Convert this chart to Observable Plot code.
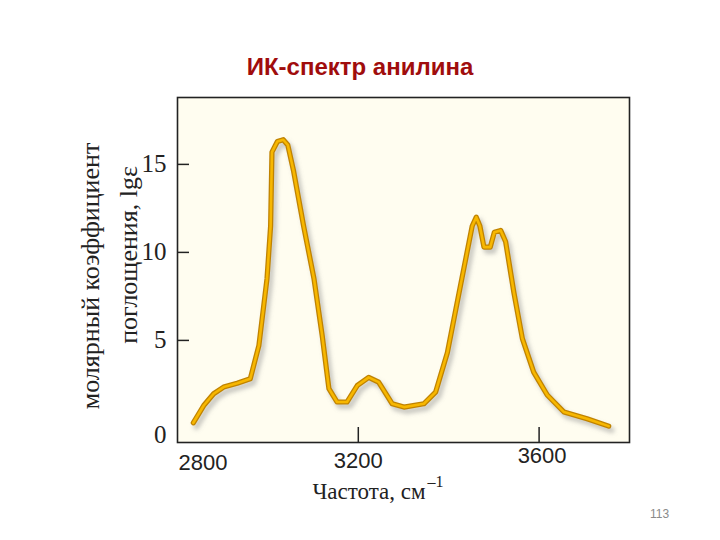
<!DOCTYPE html>
<html>
<head>
<meta charset="utf-8">
<script src="https://cdn.jsdelivr.net/npm/d3@7"></script>
<script src="https://cdn.jsdelivr.net/npm/@observablehq/plot@0.6"></script>
<style>
  html, body { margin: 0; padding: 0; background: #fff; }
  #wrap { position: relative; width: 720px; height: 540px; overflow: hidden; }
  #title { position: absolute; left: 0; width: 720px; top: 53px; text-align: center;
           font-family: "Liberation Sans", Arial, sans-serif; font-weight: bold; font-size: 24px; color: #a00d0d; }
  #page { position: absolute; left: 650px; top: 507px; font-family: "Liberation Sans", Arial, sans-serif;
          font-size: 12px; color: #8a8a8a; }
  #chart { position: absolute; left: 0; top: 0; }
</style>
</head>
<body>
<div id="wrap">
  <div id="chart"></div>
  <div id="title">ИК-спектр анилина</div>
  <div id="page">113</div>
</div>
<script>
// Wavenumber (cm^-1) and lg(epsilon)
const wavenumber = [2835, 2858, 2880, 2902, 2932, 2961, 2980, 2998, 3006, 3009, 3021, 3034, 3044, 3057, 3079, 3102, 3120, 3135, 3153, 3175, 3198, 3223, 3245, 3275, 3301, 3345, 3371, 3397, 3426, 3452, 3461, 3469, 3478, 3492, 3501, 3515, 3526, 3544, 3563, 3588, 3618, 3655, 3706, 3754];
const absorbance = [0.32, 1.3, 1.97, 2.35, 2.57, 2.82, 4.7, 8.5, 11.5, 15.7, 16.3, 16.4, 16.1, 14.6, 11.5, 8.5, 5.3, 2.26, 1.5, 1.5, 2.44, 2.9, 2.63, 1.4, 1.21, 1.4, 2.06, 4.3, 8.1, 11.5, 12.0, 11.5, 10.3, 10.3, 11.15, 11.25, 10.6, 7.75, 5.1, 3.2, 1.9, 0.93, 0.55, 0.13];
const yTicks = [5, 10, 15];
const yTickZero = [0];
const xTicksInner = [3200, 3600];
const xLabelFirst = [2800];
const xLabelsMid = [3200];
const xLabelsLast = [3600];
const xDomain = [2800, 3800];
const yDomain = [-0.8, 18.8];
const yTitle1 = "молярный коэффициент";
const yTitle2 = "поглощения, lgε";
const xTitle = "Частота, см";
const xTitleSup = "–1";

const data = wavenumber.map((x, i) => ({x, y: absorbance[i]}));
const serif = "'Liberation Serif', 'Times New Roman', serif";
const sans = "'Liberation Sans', Arial, sans-serif";

const plot = Plot.plot({
  width: 720,
  height: 540,
  marginLeft: 177,
  marginRight: 91,
  marginTop: 97,
  marginBottom: 98,
  x: {domain: xDomain, axis: null},
  y: {domain: yDomain, axis: null},
  marks: [
    Plot.frame({fill: "#fffdf0", stroke: "none"}),
    Plot.line(data, {x: "x", y: "y", stroke: "#8a8a8a", strokeWidth: 6, strokeOpacity: 0.45, dx: 3, dy: 4, className: "shadow"}),
    Plot.line(data, {x: "x", y: "y", stroke: "#c08300", strokeWidth: 5.2, strokeLinejoin: "round", strokeLinecap: "round"}),
    Plot.line(data, {x: "x", y: "y", stroke: "#f7b700", strokeWidth: 2.6, strokeLinejoin: "round", strokeLinecap: "round"}),
    Plot.frame({stroke: "#222", strokeWidth: 1.6}),
    Plot.tickY(yTicks, {y: d => d, insetRight: 440, stroke: "#222", strokeWidth: 1.5}),
    Plot.tickX(xTicksInner, {x: d => d, insetTop: 330, stroke: "#222", strokeWidth: 1.5}),
    Plot.text(yTicks, {y: d => d, text: d => String(d), frameAnchor: "left", textAnchor: "end", dx: -11, fontSize: 25, fontFamily: serif, fill: "#222"}),
    Plot.text(yTickZero, {y: d => d, text: d => String(d), frameAnchor: "left", textAnchor: "end", dx: -11, dy: 7, fontSize: 25, fontFamily: serif, fill: "#222"}),
    Plot.text(xLabelFirst, {x: d => d, text: d => String(d), frameAnchor: "bottom", textAnchor: "start", dx: 1, dy: 27, fontSize: 22, fontFamily: sans, fill: "#222"}),
    Plot.text(xLabelsMid, {x: d => d, text: d => String(d), frameAnchor: "bottom", dy: 25, fontSize: 22, fontFamily: sans, fill: "#222"}),
    Plot.text(xLabelsLast, {x: d => d, text: d => String(d), frameAnchor: "bottom", dy: 20, dx: 3, fontSize: 22, fontFamily: sans, fill: "#222"}),
    Plot.text([yTitle1], {text: d => d, frameAnchor: "left", textAnchor: "middle", rotate: -90, dx: -87, dy: 6, fontSize: 26, fontFamily: serif, fill: "#222"}),
    Plot.text([yTitle2], {text: d => d, frameAnchor: "left", textAnchor: "middle", rotate: -90, dx: -49, dy: -15, fontSize: 26, fontFamily: serif, fill: "#222"}),
    Plot.text([xTitle], {text: d => d, frameAnchor: "bottom", textAnchor: "end", dx: 22, dy: 56, fontSize: 23, fontFamily: serif, fill: "#222"}),
    Plot.text([xTitleSup], {text: d => d, frameAnchor: "bottom", textAnchor: "start", dx: 24, dy: 44, fontSize: 16, fontFamily: serif, fill: "#222"})
  ]
});

// soft blur for the curve's shadow
const svg = d3.select(plot);
const defs = svg.insert("defs", ":first-child");
defs.append("filter").attr("id", "blur").attr("x", "-10%").attr("y", "-10%").attr("width", "120%").attr("height", "120%")
  .append("feGaussianBlur").attr("stdDeviation", 2);
svg.selectAll(".shadow").attr("filter", "url(#blur)");

document.getElementById("chart").appendChild(plot);
</script>
</body>
</html>
